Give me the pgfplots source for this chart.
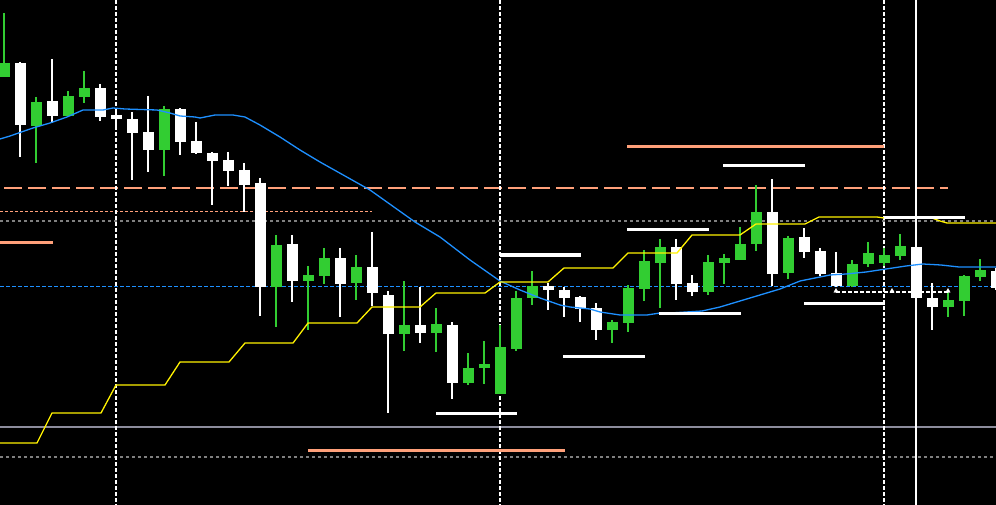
\documentclass[border=0pt]{standalone}
\usepackage{pgfplots}
\pgfplotsset{compat=1.18}
\definecolor{candlegreen}{HTML}{32CD32}
\definecolor{salmon}{HTML}{FFA07A}
\definecolor{mablue}{HTML}{1E90FF}
\definecolor{lgray}{HTML}{8C8C9C}
\definecolor{dgray}{HTML}{808080}
\begin{document}
\begin{tikzpicture}
\begin{axis}[
  width=996pt, height=505pt, scale only axis,
  xmin=0, xmax=996, ymin=0, ymax=505, y dir=reverse,
  axis line style={draw=none}, ticks=none,
  axis background/.style={fill=black},
  unbounded coords=jump, clip=true,
]
% ---- horizontal levels (behind candles) ----
\addplot[salmon, line width=1.3pt, dash pattern=on 18pt off 6pt] coordinates {(4,188) (948,188)};
\addplot[salmon, line width=1.2pt, dash pattern=on 3pt off 2pt] coordinates {(0,211.5) (372,211.5)};
\addplot[dgray, line width=1.2pt, dash pattern=on 3pt off 3pt] coordinates {(0,221) (996,221)};
\addplot[mablue, line width=1.3pt, dash pattern=on 4pt off 2pt] coordinates {(0,286.5) (996,286.5)};
\addplot[lgray, line width=1.2pt] coordinates {(0,427) (996,427)};
\addplot[dgray, line width=1.2pt, dash pattern=on 3pt off 3pt] coordinates {(0,457) (996,457)};
% ---- vertical separators ----
\addplot[white, line width=1.2pt, dash pattern=on 4pt off 2pt] coordinates {(116,0) (116,505)};
\addplot[white, line width=1.2pt, dash pattern=on 4pt off 2pt] coordinates {(500,0) (500,505)};
\addplot[white, line width=1.2pt, dash pattern=on 4pt off 2pt] coordinates {(884,0) (884,505)};
% ---- white candles: wicks (x, high / low) ----
\addplot[white, line width=1.2pt, mark=none] table {
x y
20 62
20 157
20 nan
52 59
52 123
52 nan
100 84
100 121
100 nan
116 112
116 127
116 nan
132 112
132 180
132 nan
148 96
148 172
148 nan
180 108
180 155
180 nan
196 122
196 154
196 nan
212 152
212 205
212 nan
228 152
228 186
228 nan
244 163
244 212
244 nan
260 178
260 316
260 nan
292 235
292 302
292 nan
340 248
340 317
340 nan
372 232
372 306
372 nan
388 291
388 413
388 nan
420 287
420 343
420 nan
452 322
452 399
452 nan
548 283
548 310
548 nan
564 287
564 317
564 nan
580 296
580 322
580 nan
596 303
596 340
596 nan
676 239
676 300
676 nan
692 275
692 296
692 nan
772 179
772 286
772 nan
804 228
804 258
804 nan
820 248
820 276
820 nan
836 252
836 287
836 nan
932 283
932 330
932 nan
996 268
996 290
};
% ---- green candles: wicks ----
\addplot[candlegreen, line width=1.2pt, mark=none] table {
x y
4 13
4 77
4 nan
36 97
36 163
36 nan
68 91
68 117
68 nan
84 71
84 103
84 nan
164 106
164 176
164 nan
276 235
276 327
276 nan
308 266
308 330
308 nan
324 248
324 284
324 nan
356 255
356 300
356 nan
404 281
404 351
404 nan
436 308
436 352
436 nan
468 353
468 385
468 nan
484 341
484 384
484 nan
500 325
500 394
500 nan
516 291
516 351
516 nan
532 271
532 305
532 nan
612 320
612 343
612 nan
628 285
628 332
628 nan
644 250
644 301
644 nan
660 239
660 308
660 nan
708 255
708 295
708 nan
724 254
724 284
724 nan
740 227
740 260
740 nan
756 185
756 251
756 nan
788 236
788 279
788 nan
852 260
852 287
852 nan
868 242
868 267
868 nan
884 248
884 266
884 nan
900 234
900 260
900 nan
948 290
948 317
948 nan
964 275
964 316
964 nan
980 259
980 281
};
% ---- white candles: bodies (x, top / bottom) ----
\addplot[white, line width=11pt, mark=none] table {
x y
20 63
20 125
20 nan
52 101
52 116
52 nan
100 88
100 117
100 nan
116 115
116 119
116 nan
132 119
132 133
132 nan
148 132
148 150
148 nan
180 109
180 142
180 nan
196 141
196 153
196 nan
212 153
212 161
212 nan
228 160
228 171
228 nan
244 170
244 185
244 nan
260 183
260 287
260 nan
292 244
292 281
292 nan
340 258
340 284
340 nan
372 267
372 293
372 nan
388 295
388 334
388 nan
420 325
420 333
420 nan
452 325
452 383
452 nan
548 286
548 290
548 nan
564 290
564 298
564 nan
580 297
580 309
580 nan
596 308
596 330
596 nan
676 247
676 284
676 nan
692 283
692 292
692 nan
772 212
772 274
772 nan
804 237
804 252
804 nan
820 251
820 274
820 nan
836 273
836 286
836 nan
916 247
916 298
916 nan
932 298
932 307
932 nan
996 271
996 288
};
% ---- green candles: bodies ----
\addplot[candlegreen, line width=11pt, mark=none] table {
x y
4 63
4 77
4 nan
36 102
36 126
36 nan
68 96
68 116
68 nan
84 88
84 97
84 nan
164 109
164 150
164 nan
276 245
276 287
276 nan
308 275
308 281
308 nan
324 258
324 276
324 nan
356 267
356 283
356 nan
404 325
404 334
404 nan
436 324
436 333
436 nan
468 368
468 383
468 nan
484 364
484 368
484 nan
500 347
500 394
500 nan
516 298
516 349
516 nan
532 286
532 298
532 nan
612 322
612 330
612 nan
628 288
628 323
628 nan
644 261
644 289
644 nan
660 247
660 263
660 nan
708 262
708 292
708 nan
724 258
724 263
724 nan
740 244
740 260
740 nan
756 212
756 244
756 nan
788 238
788 273
788 nan
852 264
852 286
852 nan
868 253
868 264
868 nan
884 255
884 263
884 nan
900 246
900 256
900 nan
948 300
948 307
948 nan
964 276
964 301
964 nan
980 270
980 277
};
% ---- current bar line ----
\addplot[white, line width=1.2pt] coordinates {(916,0) (916,505)};
% ---- moving average (blue) ----
\addplot[mablue, line width=1.3pt, mark=none] coordinates {
(0,139) (10,136) (20,132.5) (33,128) (50,123) (67,117) (83,110) (103,110) (113,108) (125,109)
(157,110) (170,113) (180,116) (195,117) (200,118) (215,115) (233,115) (245,117) (260,125)
(280,137) (300,150) (320,162) (370,190) (415,222) (440,237) (470,260) (500,281) (520,290)
(540,298) (560,305) (570,307) (590,309) (600,312) (620,315) (647,315) (660,313) (670,313)
(702,311) (720,307) (740,301) (760,295) (780,289) (800,281) (820,277) (830,275) (846,274)
(866,272) (886,269) (906,266) (923,264) (941,265) (959,267) (976,267) (996,267)};
% ---- trailing step line (yellow) ----
\addplot[yellow, line width=1.3pt, mark=none] coordinates {
(0,443) (37,443) (52,413) (101,413) (116,385) (165,385) (180,362) (229,362) (245,343) (293,343)
(308,323) (357,323) (372,307) (420,307) (436,293) (485,293) (500,282) (548,282) (564,268) (613,268)
(628,253) (677,253) (692,235) (740,235) (756,224) (805,224) (819,217) (877,217) (884,218) (932,218)
(940,221) (947,223) (996,223)};
% ---- thick level segments ----
\addplot[salmon, line width=3pt] coordinates {(0,242.5) (53,242.5)};
\addplot[salmon, line width=3pt] coordinates {(627,147) (884,147)};
\addplot[salmon, line width=3pt] coordinates {(308,450) (565,450)};
\addplot[white, line width=3pt] coordinates {(500,255) (581,255)};
\addplot[white, line width=3pt] coordinates {(627,230) (709,230)};
\addplot[white, line width=3pt] coordinates {(563,356) (645,356)};
\addplot[white, line width=3pt] coordinates {(436,413.5) (517,413.5)};
\addplot[white, line width=3pt] coordinates {(659,313) (741,313)};
\addplot[white, line width=3pt] coordinates {(723,166) (805,166)};
\addplot[white, line width=3pt] coordinates {(804,303) (885,303)};
\addplot[white, line width=3pt] coordinates {(884,218) (965,218)};
% ---- small arrow line ----
\addplot[white, line width=1.2pt, dash pattern=on 4pt off 2pt] coordinates {(836,292) (948,292)};
\addplot[white, only marks, mark=triangle*, mark size=2.5pt] coordinates {(836,291) (892,291) (948,291)};
\end{axis}
\end{tikzpicture}
\end{document}
